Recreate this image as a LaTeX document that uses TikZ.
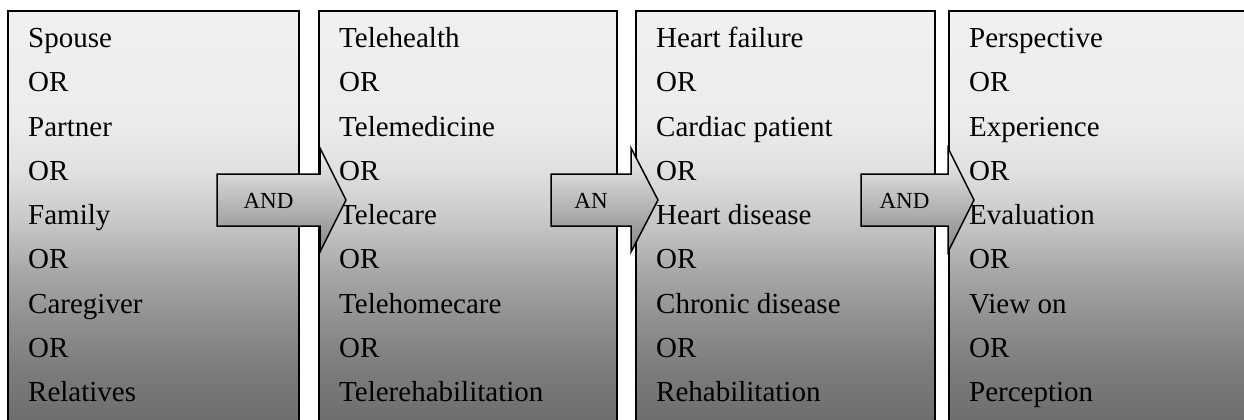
\documentclass[tikz,border=0pt]{standalone}
\usepackage{fontspec}
\setmainfont{Liberation Serif}
\usetikzlibrary{calc}
\definecolor{gA}{gray}{0.94}\definecolor{gB}{gray}{0.925}\definecolor{gC}{gray}{0.88}
\definecolor{gD}{gray}{0.785}\definecolor{gE}{gray}{0.66}\definecolor{gF}{gray}{0.565}
\definecolor{gG}{gray}{0.486}\definecolor{gH}{gray}{0.43}\definecolor{gI}{gray}{0.415}
\definecolor{arrtop}{gray}{0.95}\definecolor{arrbot}{gray}{0.52}
\pgfdeclareverticalshading{boxshade}{100bp}{color(0bp)=(gI); color(25bp)=(gI); color(27.3bp)=(gH); color(33.2bp)=(gG); color(39bp)=(gF); color(44.8bp)=(gE); color(50.6bp)=(gD); color(56.5bp)=(gC); color(62.3bp)=(gB); color(73.9bp)=(gA); color(100bp)=(gA)}
\tikzset{box/.style={draw=black,line width=1.5pt,shading=boxshade}}
\tikzset{blockarr/.style={draw=black,line width=1.5pt,top color=arrtop,bottom color=arrbot,line join=miter}}
\tikzset{word/.style={font=\fontsize{29}{34}\selectfont,anchor=base west,inner sep=0pt}}
\tikzset{andlbl/.style={font=\fontsize{23}{27}\selectfont,inner sep=0pt}}

\begin{document}
\begin{tikzpicture}[x=1pt,y=-1pt]
\useasboundingbox (0,0) rectangle (1244,420);
% search term columns
\foreach \n/\l/\r/\words in {1/8/299/{Spouse,OR,Partner,OR,Family,OR,Caregiver,OR,Relatives},
 2/319/617/{Telehealth,OR,Telemedicine,OR,Telecare,OR,Telehomecare,OR,Telerehabilitation},
 3/636/935/{Heart failure,OR,Cardiac patient,OR,Heart disease,OR,Chronic disease,OR,Rehabilitation},
 4/949/1262/{Perspective,OR,Experience,OR,Evaluation,OR,View on,OR,Perception}}{
\path[box](\l,11)rectangle(\r,440);
\foreach \w[count=\k] in \words {\node[word](b\n-\k)at(\l+20,{47.5+(\k-1)*44.25}){\w};}
}
% connectors
\foreach \n/\a/\b/\t/\txt in {1/217/320/346/AND,2/551/631/658/AN,3/861/948/974/AND}{
\draw[blockarr](\a,174)--(\b,174)--(\b,148)--(\t,200)--(\b,252)--(\b,226)--(\a,226)--cycle;
\node[andlbl](a\n)at({(\a+\b)/2},201){\txt};
}
\end{tikzpicture}
\end{document}
